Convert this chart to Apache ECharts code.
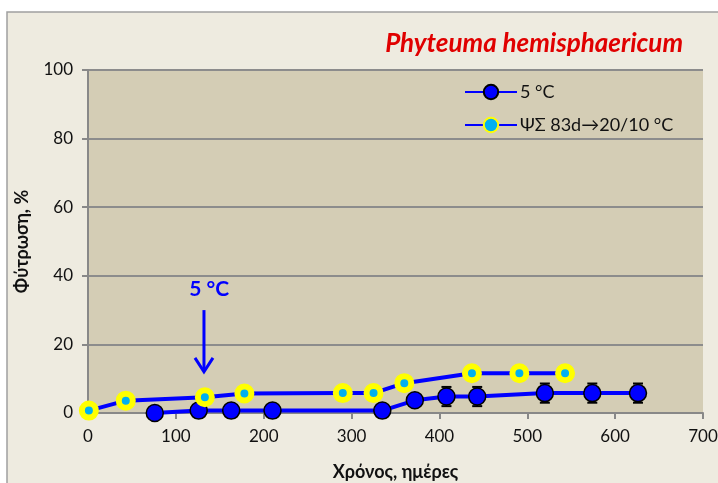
<!DOCTYPE html>
<html><head><meta charset="utf-8">
<script src="https://cdn.jsdelivr.net/npm/echarts@6/dist/echarts.min.js"></script>
<style>html,body{margin:0;padding:0;background:#fff}#c{width:718px;height:483px}</style>
</head><body><div id="c"></div>
<script>
const xTicks = [0,100,200,300,400,500,600,700];
const yTicks = [0,20,40,60,80,100];
const s1Days = [76,126,163,210,335,372,408,443,520,574,626];
const s1Vals = [0,0.7,0.7,0.7,0.7,3.7,4.8,4.8,5.8,5.8,5.8];
const s1Err  = [0,0,0,0,0,0,2.8,2.8,2.8,2.8,2.8];
const s2Days = [1,43,133,178,290,325,360,437,491,543];
const s2Vals = [0.7,3.6,4.6,5.7,5.8,5.8,8.7,11.6,11.6,11.6];
const s1Name = '5 °C';
const s2Name = 'ΨΣ 83d→20/10 °C';
const titleText = 'Phyteuma hemisphaericum';
const annText = '5 °C';
const annX = 132, annTop = 30, annBottom = 12, annTextY = 36;

const chart = echarts.init(document.getElementById('c'));
const s1 = s1Days.map((d,i)=>[d,s1Vals[i]]);
const s2 = s2Days.map((d,i)=>[d,s2Vals[i]]);
const errData = s1Days.map((d,i)=>[d,s1Vals[i]-s1Err[i],s1Vals[i]+s1Err[i]]).filter((e,i)=>s1Err[i]>0);
const font = 'Lato, "Open Sans", sans-serif';
const frame = {type:'rect',z:-10,shape:{x:7,y:12,width:720,height:480},style:{fill:'#EEEBE0',stroke:'#A0A0A0',lineWidth:1.5}};
chart.setOption({
  animation:false,
  backgroundColor:'#ffffff',
  graphic:[frame],
  title:{text:titleText,right:30,top:26,textStyle:{color:'#E00000',fontSize:26,fontWeight:'bold',fontStyle:'italic',fontFamily:font}},
  grid:{left:88,right:15,top:70,bottom:70,show:true,backgroundColor:'#D4CDB5',borderWidth:0,outerBoundsMode:'none',containLabel:false},
  legend:{orient:'vertical',left:459,top:78,itemWidth:52,itemHeight:18,itemGap:15,
    textStyle:{fontSize:18,color:'#111',fontFamily:font,padding:[0,0,0,-2]},
    data:[s1Name,s2Name]},
  xAxis:{type:'value',min:0,max:700,interval:100,
    name:'Χρόνος, ημέρες',nameLocation:'middle',nameGap:50,
    nameTextStyle:{fontSize:18,fontWeight:'bold',color:'#111',fontFamily:font},
    axisLine:{show:true,lineStyle:{color:'#888',width:2}},
    axisTick:{show:true,length:6,lineStyle:{color:'#888',width:2}},
    axisLabel:{fontSize:17,color:'#111',margin:15,fontFamily:font},
    splitLine:{show:false}},
  yAxis:{type:'value',min:0,max:100,interval:20,
    name:'Φύτρωση, %',nameLocation:'middle',nameGap:57,
    nameTextStyle:{fontSize:18,fontWeight:'bold',color:'#111',fontFamily:font},
    axisLine:{show:true,lineStyle:{color:'#888',width:2}},
    axisTick:{show:true,length:6,lineStyle:{color:'#888',width:2}},
    axisLabel:{fontSize:17,color:'#111',margin:15,fontFamily:font},
    splitLine:{show:true,lineStyle:{color:'#8C8C8C',width:2}}},
  series:[
    {type:'custom',name:'err',z:3,
      renderItem:function(params,api){
        const x=api.coord([api.value(0),api.value(1)]);
        const hi=api.coord([api.value(0),api.value(2)]);
        const w=5;
        return {type:'group',children:[
          {type:'line',shape:{x1:x[0],y1:x[1],x2:hi[0],y2:hi[1]},style:{stroke:'#000',lineWidth:1.5}},
          {type:'line',shape:{x1:x[0]-w,y1:x[1],x2:x[0]+w,y2:x[1]},style:{stroke:'#000',lineWidth:2}},
          {type:'line',shape:{x1:hi[0]-w,y1:hi[1],x2:hi[0]+w,y2:hi[1]},style:{stroke:'#000',lineWidth:2}}
        ]};
      },
      encode:{x:0,y:[1,2]},data:errData},
    {type:'line',name:s1Name,data:s1,z:4,symbol:'circle',symbolSize:17,
      lineStyle:{color:'#0000FF',width:4},
      itemStyle:{color:'#0000FF',borderColor:'#000',borderWidth:1.5}},
    {type:'line',name:s2Name,data:s2,z:5,symbol:'circle',symbolSize:14,
      lineStyle:{color:'#0000FF',width:4},
      itemStyle:{color:'#00B0F0',borderColor:'#FFFF00',borderWidth:6}}
  ]
});
const pTop = chart.convertToPixel({gridIndex:0},[annX,annTop]);
const pBot = chart.convertToPixel({gridIndex:0},[annX,annBottom]);
const pTxt = chart.convertToPixel({gridIndex:0},[annX+6,annTextY]);
chart.setOption({graphic:[
  frame,
  {type:'line',z:10,shape:{x1:pTop[0],y1:pTop[1],x2:pBot[0],y2:pBot[1]-2},style:{stroke:'#0000FF',lineWidth:3}},
  {type:'polyline',z:10,shape:{points:[[pBot[0]-9,pBot[1]-14],[pBot[0],pBot[1]],[pBot[0]+9,pBot[1]-14]]},style:{stroke:'#0000FF',lineWidth:3,fill:null}},
  {type:'text',z:10,x:pTxt[0],y:pTxt[1],style:{text:annText,fill:'#0000FF',font:'bold 21px '+font,align:'center',verticalAlign:'middle'}}
]});
</script></body></html>
